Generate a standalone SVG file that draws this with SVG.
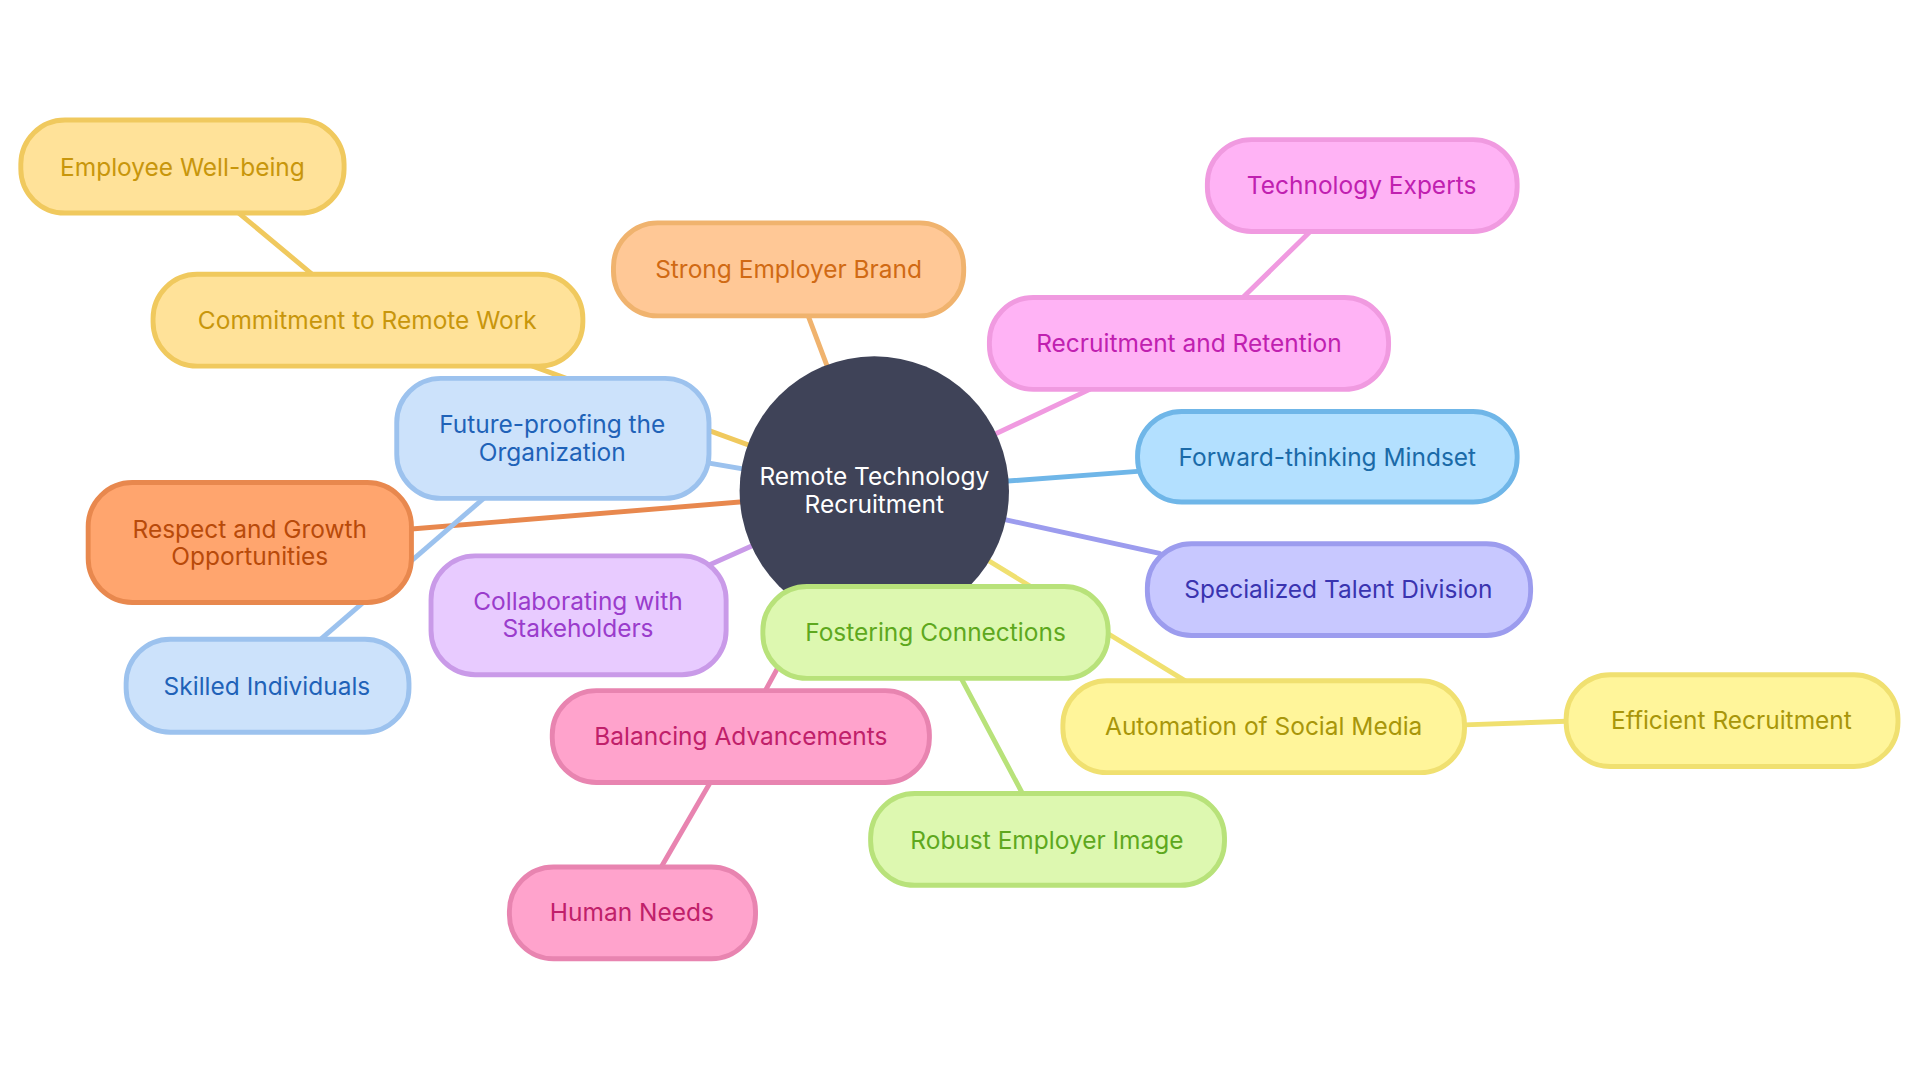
<svg xmlns="http://www.w3.org/2000/svg" width="1920" height="1080" viewBox="0 0 1920 1080">
<style>
text{font-family:Inter,"Open Sans","Liberation Sans",sans-serif;font-size:20px;text-anchor:middle;dominant-baseline:central}
.n rect{stroke-width:4}
.e line{stroke-width:4;stroke-linecap:round}
.y rect{fill:#ffe299;stroke:#f0c95e}.y text{fill:#c8960c}
.o rect{fill:#ffc896;stroke:#f0b36e}.o text{fill:#d06a14}
.p rect{fill:#ffb3f5;stroke:#f09ae0}.p text{fill:#c020b0}
.b rect{fill:#cce2fb;stroke:#9cc2ee}.b text{fill:#1f62b8}
.c rect{fill:#b3e0ff;stroke:#6fb6e8}.c text{fill:#1a6aa8}
.r rect{fill:#ffa56e;stroke:#e8884e}.r text{fill:#b84a0a}
.v rect{fill:#e8cbff;stroke:#c99ae8}.v text{fill:#9a3ccc}
.l rect{fill:#c8c8ff;stroke:#9c9cee}.l text{fill:#3a34b0}
.g rect{fill:#ddf8b0;stroke:#b8e27a}.g text{fill:#5ea81e}
.s rect{fill:#fff59a;stroke:#f0e070}.s text{fill:#a8960a}
.k rect{fill:#ffa3cc;stroke:#e884b0}.k text{fill:#c0206a}
</style>
<rect width="1920" height="1080" fill="#fff"/>
<g transform="scale(1.2245)">
<g id="connectors" class="e">
<line x1="195" y1="174" x2="255" y2="224" stroke="#f0c95e"/>
<line x1="435" y1="299" x2="714" y2="401" stroke="#f0c95e"/>
<line x1="660" y1="258" x2="714" y2="401" stroke="#f0b36e"/>
<line x1="1070" y1="189" x2="1015" y2="243" stroke="#f09ae0"/>
<line x1="890" y1="318" x2="714" y2="401" stroke="#f09ae0"/>
<line x1="560" y1="375" x2="714" y2="401" stroke="#9cc2ee"/>
<line x1="929" y1="385" x2="714" y2="401" stroke="#6fb6e8"/>
<line x1="336" y1="432" x2="714" y2="401" stroke="#e8884e" stroke-width="5"/>
<line x1="560" y1="470" x2="714" y2="401" stroke="#c99ae8"/>
<line x1="947" y1="452" x2="714" y2="401" stroke="#9c9cee"/>
<line x1="968" y1="556" x2="714" y2="401" stroke="#f0e070"/>
<line x1="764" y1="500" x2="714" y2="401" stroke="#b8e27a"/>
<line x1="1196" y1="592" x2="1279" y2="589" stroke="#f0e070"/>
<line x1="785" y1="554" x2="835" y2="648" stroke="#b8e27a"/>
<line x1="395" y1="407" x2="262" y2="522" stroke="#9cc2ee"/>
<line x1="625" y1="564" x2="714" y2="401" stroke="#e884b0"/>
<line x1="580" y1="639" x2="540" y2="708" stroke="#e884b0"/>
</g>
<g id="center"><circle cx="714" cy="401" r="110" fill="#3f4358"/><text x="714" y="389" fill="#fff">Remote Technology</text><text x="714" y="412" fill="#fff">Recruitment</text></g>
<g id="n1" class="n y"><rect x="17" y="98" width="264" height="76" rx="36"/><text x="149" y="136">Employee Well-being</text></g>
<g id="n2" class="n y"><rect x="125" y="224" width="351" height="75" rx="36"/><text x="300" y="261">Commitment to Remote Work</text></g>
<g id="n3" class="n o"><rect x="501" y="182" width="286" height="76" rx="36"/><text x="644" y="220">Strong Employer Brand</text></g>
<g id="n4" class="n p"><rect x="986" y="114" width="253" height="75" rx="36"/><text x="1112" y="151">Technology Experts</text></g>
<g id="n5" class="n p"><rect x="808" y="243" width="326" height="75" rx="36"/><text x="971" y="280">Recruitment and Retention</text></g>
<g id="n6" class="n b"><rect x="324" y="309" width="255" height="98" rx="36"/><text x="451" y="346">Future-proofing the</text><text x="451" y="369">Organization</text></g>
<g id="n7" class="n c"><rect x="929" y="336" width="310" height="74" rx="36"/><text x="1084" y="373">Forward-thinking Mindset</text></g>
<g id="n8" class="n r"><rect x="72" y="394" width="264" height="98" rx="36"/><text x="204" y="432">Respect and Growth</text><text x="204" y="454">Opportunities</text></g>
<g id="n9" class="n v"><rect x="352" y="454" width="241" height="97" rx="36"/><text x="472" y="491">Collaborating with</text><text x="472" y="513">Stakeholders</text></g>
<g id="n10" class="n l"><rect x="937" y="444" width="313" height="75" rx="36"/><text x="1093" y="481">Specialized Talent Division</text></g>
<g id="n11" class="n g"><rect x="623" y="479" width="282" height="75" rx="36"/><text x="764" y="516">Fostering Connections</text></g>
<g id="n12" class="n b"><rect x="103" y="522" width="231" height="76" rx="36"/><text x="218" y="560">Skilled Individuals</text></g>
<g id="n13" class="n s"><rect x="868" y="556" width="328" height="75" rx="36"/><text x="1032" y="593">Automation of Social Media</text></g>
<g id="n14" class="n s"><rect x="1279" y="551" width="271" height="75" rx="36"/><text x="1414" y="588">Efficient Recruitment</text></g>
<g id="n15" class="n k"><rect x="451" y="564" width="308" height="75" rx="36"/><text x="605" y="601">Balancing Advancements</text></g>
<g id="n16" class="n g"><rect x="711" y="648" width="289" height="75" rx="36"/><text x="855" y="686">Robust Employer Image</text></g>
<g id="n17" class="n k"><rect x="416" y="708" width="201" height="75" rx="36"/><text x="516" y="745">Human Needs</text></g>
</g>
</svg>
